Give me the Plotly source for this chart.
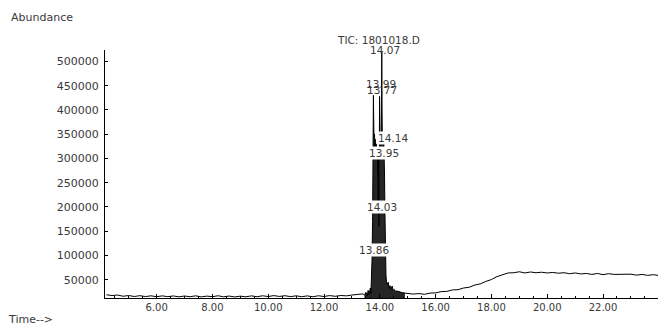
import plotly.graph_objects as go

# ---- data ----
# baseline before the peak cluster (time in min, abundance)
base_t = [4.2, 4.4, 4.6, 4.8, 5.0, 5.2, 5.4, 5.6, 5.8, 6.0, 6.2, 6.4, 6.6, 6.8, 7.0, 7.2, 7.4, 7.6,
          7.8, 8.0, 8.2, 8.4, 8.6, 8.8, 9.0, 9.2, 9.4, 9.6, 9.8, 10.0, 10.2, 10.4, 10.6, 10.8, 11.0,
          11.2, 11.4, 11.6, 11.8, 12.0, 12.2, 12.4, 12.6, 12.8, 13.0, 13.2, 13.4]
base_y = [19000, 17500, 18500, 16000, 17500, 15500, 17200, 15300, 16900, 15000, 16800, 15200, 16600,
          14800, 16500, 15000, 16900, 14700, 16300, 15100, 17000, 14900, 16400, 14600, 16200, 14900,
          16800, 15000, 17000, 15400, 17300, 15600, 17100, 15200, 16900, 15100, 16700, 15000, 17000,
          15500, 17400, 15900, 17600, 16800, 18500, 19000, 21000]

# peak cluster around 14 min (dense, drawn filled)
peak_t = [13.45, 13.50, 13.55, 13.58, 13.62, 13.66, 13.68, 13.70, 13.72, 13.74, 13.75, 13.76, 13.77,
          13.78, 13.79, 13.80, 13.81, 13.82, 13.83, 13.84, 13.85, 13.86, 13.87, 13.88, 13.89, 13.90,
          13.91, 13.92, 13.93, 13.94, 13.95, 13.96, 13.97, 13.98, 13.99, 14.00, 14.01, 14.02, 14.03,
          14.04, 14.05, 14.06, 14.07, 14.08, 14.09, 14.10, 14.11, 14.12, 14.13, 14.14, 14.15, 14.16,
          14.17, 14.18, 14.19, 14.20, 14.22, 14.24, 14.27, 14.30, 14.33, 14.36, 14.40, 14.44, 14.48,
          14.52, 14.56, 14.60, 14.70, 14.80, 14.90]
peak_y = [18000, 24000, 17000, 28000, 20000, 33000, 22000, 45000, 90000, 170000, 300000, 400000,
          430000, 380000, 345000, 330000, 350000, 325000, 340000, 320000, 335000, 315000, 330000,
          310000, 325000, 300000, 315000, 290000, 250000, 190000, 301000, 175000, 160000, 280000,
          428000, 340000, 330000, 350000, 325000, 345000, 340000, 420000, 521000, 400000, 335000,
          350000, 330000, 345000, 325000, 332000, 320000, 300000, 260000, 200000, 140000, 90000,
          60000, 45000, 40000, 45000, 32000, 38000, 30000, 37000, 28000, 30000, 26000, 27000, 24500,
          23500, 22500]

# tail after the cluster
tail_t = [15.0, 15.2, 15.4, 15.6, 15.8, 16.0, 16.2, 16.4, 16.6, 16.8, 17.0, 17.2, 17.4, 17.6, 17.8,
          18.0, 18.2, 18.4, 18.6, 18.8, 19.0, 19.2, 19.4, 19.6, 19.8, 20.0, 20.2, 20.4, 20.6, 20.8,
          21.0, 21.2, 21.4, 21.6, 21.8, 22.0, 22.2, 22.4, 22.6, 22.8, 23.0, 23.2, 23.4, 23.6, 23.8, 23.97]
tail_y = [22000, 20500, 21500, 20000, 22500, 23000, 25500, 26000, 29000, 29500, 33000, 34500, 39000,
          41500, 46500, 50500, 56500, 60000, 64000, 64500, 66500, 64000, 66000, 64500, 65500, 64000,
          65000, 63500, 64500, 62500, 64000, 62000, 63000, 61000, 63000, 60500, 62500, 61000, 61500,
          60500, 61500, 59500, 61000, 59000, 60500, 59000]

peak_labels = ["14.07", "13.99", "13.77", "14.14", "13.95", "14.03", "13.86"]
peak_label_t = [14.07, 13.99, 13.77, 14.14, 13.95, 14.03, 13.86]
peak_label_y = [521000, 428000, 430000, 332000, 301000, 190000, 101000]

x_ticks = [6, 8, 10, 12, 14, 16, 18, 20, 22]
x_tick_text = ["6.00", "8.00", "10.00", "12.00", "14.00", "16.00", "18.00", "20.00", "22.00"]
y_ticks = [50000, 100000, 150000, 200000, 250000, 300000, 350000, 400000, 450000, 500000]

time = base_t + peak_t + tail_t
abund = base_y + peak_y + tail_y

FONT = "DejaVu Sans"
TXT = "#3a3a3a"

fig = go.Figure()
# filled body of the peak cluster
fig.add_trace(go.Scatter(x=peak_t, y=peak_y, mode="lines", fill="tozeroy",
                         fillcolor="#262626", line=dict(color="rgba(0,0,0,0)", width=0),
                         hoverinfo="skip", showlegend=False))
fig.add_trace(go.Scatter(x=time, y=abund, mode="lines",
                         line=dict(color="black", width=1), hoverinfo="skip",
                         showlegend=False))

label_shift = [1, 12, 5, 5, 5, 5, 5]
label_xshift = [3, 1, 9, 9, 6, 1, -2]
label_bg = [None, None, None, "white", "white", "white", "white"]
for txt, t, v, ys, xs, bg in zip(peak_labels, peak_label_t, peak_label_y, label_shift,
                                 label_xshift, label_bg):
    fig.add_annotation(x=t, y=v, text=txt, showarrow=False, yanchor="middle",
                       xanchor="center", yshift=ys, xshift=xs, bgcolor=bg, borderpad=0,
                       font=dict(family=FONT, size=10.5, color=TXT))

fig.add_annotation(x=14.07, y=1, xref="x", yref="paper", text="TIC: 1801018.D",
                   showarrow=False, yanchor="bottom", yshift=2, xshift=-3,
                   font=dict(family=FONT, size=10.5, color=TXT))
fig.add_annotation(x=0, y=1, xref="paper", yref="paper", text="Abundance",
                   showarrow=False, xanchor="left", yanchor="middle",
                   xshift=-96, yshift=33,
                   font=dict(family=FONT, size=11, color=TXT))
fig.add_annotation(x=0, y=0, xref="paper", yref="paper", text="Time-->",
                   showarrow=False, xanchor="left", yanchor="middle",
                   xshift=-99, yshift=-21,
                   font=dict(family=FONT, size=11, color=TXT))

fig.update_layout(
    width=658, height=326,
    margin=dict(l=105, r=0, t=50, b=28),
    paper_bgcolor="white", plot_bgcolor="white",
    showlegend=False,
)
fig.update_xaxes(range=[4.15, 23.97], tickvals=x_ticks, ticktext=x_tick_text,
                 showline=True, linecolor="black", linewidth=1, showgrid=False,
                 zeroline=False, ticks="inside", ticklen=4, tickcolor="black",
                 minor=dict(dtick=0.5, ticks="inside", ticklen=2, tickcolor="black"),
                 tickfont=dict(family=FONT, size=10, color=TXT))
fig.update_yaxes(range=[12400, 523500], tickvals=y_ticks,
                 ticktext=[str(v) for v in y_ticks],
                 showline=True, linecolor="black", linewidth=1, showgrid=False,
                 zeroline=False, ticks="inside", ticklen=3, tickcolor="black",
                 ticklabelstandoff=3,
                 tickfont=dict(family=FONT, size=11, color=TXT))

fig.write_html("out.html")
